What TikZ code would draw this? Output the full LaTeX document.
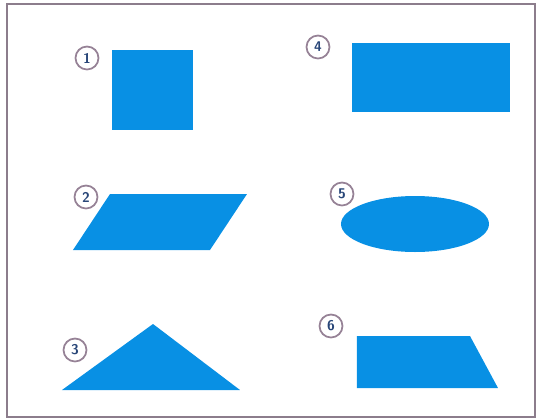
\documentclass[tikz,border=0pt]{standalone}
\usepackage{tikz}
\usetikzlibrary{shapes.geometric}
\definecolor{shapeblue}{RGB}{8,144,228}
\definecolor{ringgray}{RGB}{150,130,150}
\definecolor{numblue}{RGB}{40,70,120}
\definecolor{framegray}{RGB}{140,125,140}

\begin{document}
\begin{tikzpicture}[
    x=0.02cm, y=-0.02cm,
    shp/.style={fill=shapeblue, draw=none},
    num/.style={circle, draw=ringgray, line width=1pt, fill=white, minimum size=0.46cm, inner sep=0pt, font=\sffamily\bfseries\footnotesize, text=numblue}
]
    \useasboundingbox (0,0) rectangle (539,420);
    \draw[framegray, line width=1.3pt] (7,4) rectangle (535,417);

    % square and rectangle
    \fill[shp] (112,50) rectangle (193,130);
    \node[num] (n1) at (87,58) {1};
    \fill[shp] (352,43) rectangle (510,112);
    \node[num] (n4) at (318,47) {4};

    % parallelogram and ellipse
    \fill[shp] (73,250) -- (210,250) -- (247,194) -- (110,194) -- cycle;
    \node[num] (n2) at (86,197) {2};
    \fill[shp] (415,224) ellipse (74 and 28);
    \node[num] (n5) at (342,194) {5};

    % triangle and trapezoid
    \fill[shp] (62,390) -- (240,390) -- (153,324) -- cycle;
    \node[num] (n3) at (75,350) {3};
    \fill[shp] (357,336) -- (470,336) -- (498,388) -- (357,388) -- cycle;
    \node[num] (n6) at (331,326) {6};
\end{tikzpicture}
\end{document}
